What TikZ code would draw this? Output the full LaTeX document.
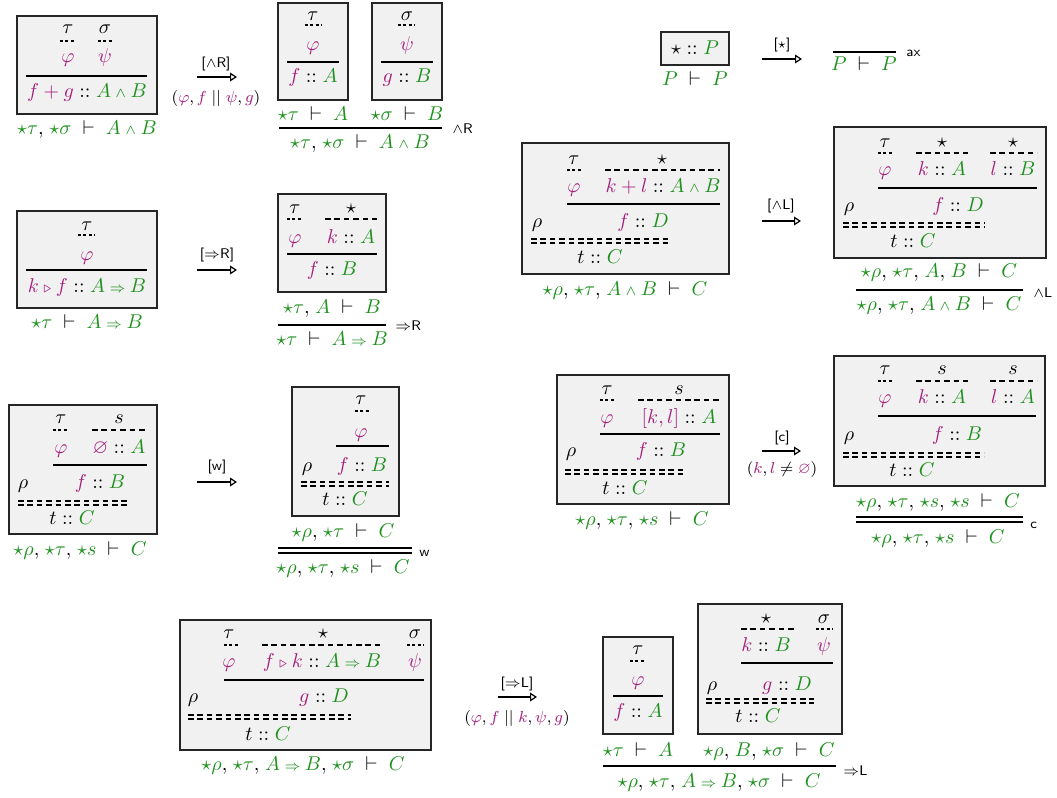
\documentclass[tikz,border=0pt]{standalone}
\usepackage{amssymb}
\usetikzlibrary{arrows.meta}
\definecolor{termc}{RGB}{165,30,125}
\definecolor{formc}{RGB}{30,145,30}
\definecolor{boxc}{RGB}{241,241,241}
\newcommand\tmc[1]{\textcolor{termc}{#1}}
\newcommand\fmc[1]{\textcolor{formc}{#1}}
\newcommand\cnj{\mathbin{\scriptstyle\wedge}}
\newcommand\imp{\mathbin{\scriptstyle\Rightarrow}}
\newcommand\tri{\mathbin{\scriptstyle\triangleright}}
\newcommand\vd{\mathrel{\mkern5mu\vdash\mkern5mu}}
\newcommand\cmm{,\mkern2mu}
% two dashed lines (cut) and two solid lines (structural rule)
\newcommand\cutline[3]{\draw[dsh] (#1,#3) -- (#2,#3); \draw[dsh] (#1,#3+4) -- (#2,#3+4);}
\newcommand\dblrule[3]{\draw[rul] (#1,#3) -- (#2,#3); \draw[rul] (#1,#3+5) -- (#2,#3+5);}

\begin{document}
\begin{tikzpicture}[x=0.5pt, y=-0.5pt,
  every node/.style={inner sep=0pt, text height=1.5ex, text depth=.25ex},
  sbox/.style={draw=black!85, line width=0.9pt, fill=boxc},
  rul/.style={line width=0.75pt},
  wk/.style={line width=0.6pt, dash pattern=on 1.5pt off 1.2pt},
  dsh/.style={line width=0.6pt, dash pattern=on 2.8pt off 1.9pt},
  redu/.style={-{Triangle[open, length=3.5pt, width=4.4pt]}, line width=0.6pt},
  rname/.style={font=\scriptsize\sffamily, anchor=west},
  alab/.style={font=\scriptsize\sffamily},
  aarg/.style={font=\footnotesize}]
	\useasboundingbox (0,0) rectangle (1057,798);
	
	%%%%% AND RIGHT %%%%%
	\draw[sbox] (17,16) rectangle (157,114);
	\node (aR-t) at (68,28) {$\tau$};
	\node (aR-s) at (105,28) {$\sigma$};
	\draw[wk] (60,41) -- (75,41);
	\draw[wk] (98,41) -- (113,41);
	\node (aR-phi) at (68,57) {$\tmc{\varphi}$};
	\node (aR-psi) at (105,57) {$\tmc{\psi}$};
	\draw[rul] (26,76) -- (147,76);
	\node (aR-c) at (87,92) {$\tmc{f+g}\mathrel{::}\fmc{A\cnj B}$};
	\node (aR-seq) at (87,129) {$\fmc{\star\tau}\cmm\fmc{\star\sigma}\vd\fmc{A\cnj B}$};
	
	\coordinate (aR-a1) at (197,77);
	\coordinate (aR-a2) at (237,77);
	\draw[redu] (aR-a1) -- (aR-a2);
	\node[alab] (aR-lab) at (216,62) {[$\wedge$R]};
	\node[aarg] (aR-arg) at (216,97) {$(\tmc{\varphi},\tmc{f}\;||\;\tmc{\psi},\tmc{g})$};
	
	\draw[sbox] (278,3) rectangle (348,100);
	\node (aR-t2) at (313,15) {$\tau$};
	\draw[wk] (305,25) -- (322,25);
	\node (aR-phi2) at (313,45) {$\tmc{\varphi}$};
	\draw[rul] (287,62) -- (339,62);
	\node (aR-f) at (313,77) {$\tmc{f}\mathrel{::}\fmc{A}$};
	\draw[sbox] (372,3) rectangle (442,100);
	\node (aR-s2) at (407,15) {$\sigma$};
	\draw[wk] (398,25) -- (415,25);
	\node (aR-psi2) at (407,45) {$\tmc{\psi}$};
	\draw[rul] (381,62) -- (433,62);
	\node (aR-g) at (407,77) {$\tmc{g}\mathrel{::}\fmc{B}$};
	\node (aR-p1) at (313,115) {$\fmc{\star\tau}\vd\fmc{A}$};
	\node (aR-p2) at (407,115) {$\fmc{\star\sigma}\vd\fmc{B}$};
	\draw[rul] (279,128) -- (442,128);
	\node (aR-con) at (360,143) {$\fmc{\star\tau}\cmm\fmc{\star\sigma}\vd\fmc{A\cnj B}$};
	\node[rname] (aR-name) at (452,128) {$\wedge$R};
	
	%%%%% AXIOM %%%%%
	\draw[sbox] (661,32) rectangle (729,65);
	\node (ax-c) at (695,49) {$\star\mathrel{::}\fmc{P}$};
	\node (ax-seq) at (695,80) {$\fmc{P}\vd\fmc{P}$};
	\coordinate (ax-a1) at (762,59);
	\coordinate (ax-a2) at (802,59);
	\draw[redu] (ax-a1) -- (ax-a2);
	\node[alab] (ax-lab) at (782,43) {[$\star$]};
	\draw[rul] (833,52) -- (896,52);
	\node (ax-con) at (864,65) {$\fmc{P}\vd\fmc{P}$};
	\node[rname] (ax-name) at (906,51) {ax};
	
	%%%%% IMPLIES RIGHT %%%%%
	\draw[sbox] (17,211) rectangle (157,308);
	\node (iR-t) at (87,225) {$\tau$};
	\draw[wk] (78,235) -- (95,235);
	\node (iR-phi) at (87,255) {$\tmc{\varphi}$};
	\draw[rul] (26,270) -- (147,270);
	\node (iR-c) at (87,287) {$\tmc{k\tri f}\mathrel{::}\fmc{A\imp B}$};
	\node (iR-seq) at (87,323) {$\fmc{\star\tau}\vd\fmc{A\imp B}$};
	
	\coordinate (iR-a1) at (197,270);
	\coordinate (iR-a2) at (237,270);
	\draw[redu] (iR-a1) -- (iR-a2);
	\node[alab] (iR-lab) at (217,253) {[$\Rightarrow$R]};
	
	\draw[sbox] (278,194) rectangle (386,292);
	\node (iR-t2) at (295,208) {$\tau$};
	\draw[wk] (287,219) -- (303,219);
	\node (iR-st) at (351,208) {$\star$};
	\draw[dsh] (325,219) -- (377,219);
	\node (iR-phi2) at (295,238) {$\tmc{\varphi}$};
	\node (iR-k) at (351,238) {$\tmc{k}\mathrel{::}\fmc{A}$};
	\draw[rul] (287,254) -- (377,254);
	\node (iR-f) at (332,270) {$\tmc{f}\mathrel{::}\fmc{B}$};
	\node (iR-p) at (332,308) {$\fmc{\star\tau}\cmm\fmc{A}\vd\fmc{B}$};
	\draw[rul] (278,325) -- (386,325);
	\node (iR-con) at (332,340) {$\fmc{\star\tau}\vd\fmc{A\imp B}$};
	\node[rname] (iR-name) at (395,325) {$\Rightarrow$R};
	
	%%%%% AND LEFT %%%%%
	\draw[sbox] (522,143) rectangle (729,274);
	\node (aL-t) at (574,159) {$\tau$};
	\draw[wk] (567,170) -- (582,170);
	\node (aL-st) at (662,159) {$\star$};
	\draw[dsh] (605,170) -- (720,170);
	\node (aL-phi) at (574,187) {$\tmc{\varphi}$};
	\node (aL-kl) at (663,187) {$\tmc{k+l}\mathrel{::}\fmc{A\cnj B}$};
	\draw[rul] (567,204) -- (720,204);
	\node (aL-r) at (537,222) {$\rho$};
	\node (aL-f) at (643,222) {$\tmc{f}\mathrel{::}\fmc{D}$};
	\cutline{531}{670}{239}
	\node (aL-tc) at (600,258) {$t\mathrel{::}\fmc{C}$};
	\node (aL-seq) at (625,290) {$\fmc{\star\rho}\cmm\fmc{\star\tau}\cmm\fmc{A\cnj B}\vd\fmc{C}$};
	
	\coordinate (aL-a1) at (762,221);
	\coordinate (aL-a2) at (801,221);
	\draw[redu] (aL-a1) -- (aL-a2);
	\node[alab] (aL-lab) at (781,204) {[$\wedge$L]};
	
	\draw[sbox] (834,127) rectangle (1046,258);
	\node (aL-t2) at (885,142) {$\tau$};
	\draw[wk] (878,153) -- (894,153);
	\node (aL-st1) at (942,142) {$\star$};
	\draw[dsh] (916,153) -- (968,153);
	\node (aL-st2) at (1013,142) {$\star$};
	\draw[dsh] (990,153) -- (1037,153);
	\node (aL-phi2) at (885,170) {$\tmc{\varphi}$};
	\node (aL-k) at (942,170) {$\tmc{k}\mathrel{::}\fmc{A}$};
	\node (aL-l) at (1013,170) {$\tmc{l}\mathrel{::}\fmc{B}$};
	\draw[rul] (878,188) -- (1037,188);
	\node (aL-r2) at (849,206) {$\rho$};
	\node (aL-f2) at (958,206) {$\tmc{f}\mathrel{::}\fmc{D}$};
	\cutline{843}{985}{223}
	\node (aL-tc2) at (913,242) {$t\mathrel{::}\fmc{C}$};
	\node (aL-p) at (939,272) {$\fmc{\star\rho}\cmm\fmc{\star\tau}\cmm\fmc{A}\cmm\fmc{B}\vd\fmc{C}$};
	\draw[rul] (856,290) -- (1023,290);
	\node (aL-con) at (939,305) {$\fmc{\star\rho}\cmm\fmc{\star\tau}\cmm\fmc{A\cnj B}\vd\fmc{C}$};
	\node[rname] (aL-name) at (1033,292) {$\wedge$L};
	
	%%%%% WEAKENING %%%%%
	\draw[sbox] (9,405) rectangle (157,534);
	\node (w-t) at (61,418) {$\tau$};
	\draw[wk] (53,430) -- (69,430);
	\node (w-s) at (119,418) {$s$};
	\draw[dsh] (92,430) -- (147,430);
	\node (w-phi) at (61,448) {$\tmc{\varphi}$};
	\node (w-e) at (119,448) {$\tmc{\varnothing}\mathrel{::}\fmc{A}$};
	\draw[rul] (53,465) -- (147,465);
	\node (w-r) at (23,483) {$\rho$};
	\node (w-f) at (100,483) {$\tmc{f}\mathrel{::}\fmc{B}$};
	\cutline{18}{127}{501}
	\node (w-tc) at (72,519) {$t\mathrel{::}\fmc{C}$};
	\node (w-seq) at (80,550) {$\fmc{\star\rho}\cmm\fmc{\star\tau}\cmm\fmc{\star s}\vd\fmc{C}$};
	
	\coordinate (w-a1) at (197,482);
	\coordinate (w-a2) at (237,482);
	\draw[redu] (w-a1) -- (w-a2);
	\node[alab] (w-lab) at (217,465) {[w]};
	
	\draw[sbox] (292,387) rectangle (399,516);
	\node (w-t2) at (361,399) {$\tau$};
	\draw[wk] (355,411) -- (370,411);
	\node (w-phi2) at (361,432) {$\tmc{\varphi}$};
	\draw[rul] (336,446) -- (389,446);
	\node (w-r2) at (307,466) {$\rho$};
	\node (w-f2) at (362,466) {$\tmc{f}\mathrel{::}\fmc{B}$};
	\cutline{301}{389}{482}
	\node (w-tc2) at (345,500) {$t\mathrel{::}\fmc{C}$};
	\node (w-p) at (343,532) {$\fmc{\star\rho}\cmm\fmc{\star\tau}\vd\fmc{C}$};
	\dblrule{278}{412}{548}
	\node (w-con) at (343,568) {$\fmc{\star\rho}\cmm\fmc{\star\tau}\cmm\fmc{\star s}\vd\fmc{C}$};
	\node[rname] (w-name) at (419,551) {w};
	
	%%%%% CONTRACTION %%%%%
	\draw[sbox] (557,375) rectangle (729,504);
	\node (c-t) at (607,389) {$\tau$};
	\draw[wk] (600,400) -- (615,400);
	\node (c-s) at (679,389) {$s$};
	\draw[dsh] (638,400) -- (720,400);
	\node (c-phi) at (607,418) {$\tmc{\varphi}$};
	\node (c-kl) at (679,418) {$\tmc{[k,l]}\mathrel{::}\fmc{A}$};
	\draw[rul] (600,434) -- (720,434);
	\node (c-r) at (571,451) {$\rho$};
	\node (c-f) at (661,451) {$\tmc{f}\mathrel{::}\fmc{B}$};
	\cutline{565}{687}{470}
	\node (c-tc) at (625,489) {$t\mathrel{::}\fmc{C}$};
	\node (c-seq) at (642,520) {$\fmc{\star\rho}\cmm\fmc{\star\tau}\cmm\fmc{\star s}\vd\fmc{C}$};
	
	\coordinate (c-a1) at (762,451);
	\coordinate (c-a2) at (801,451);
	\draw[redu] (c-a1) -- (c-a2);
	\node[alab] (c-lab) at (782,436) {[c]};
	\node[aarg] (c-arg) at (782,468) {$(\tmc{k},\tmc{l}\neq\tmc{\varnothing})$};
	
	\draw[sbox] (834,356) rectangle (1045,486);
	\node (c-t2) at (885,369) {$\tau$};
	\draw[wk] (878,381) -- (894,381);
	\node (c-s1) at (942,369) {$s$};
	\draw[dsh] (916,381) -- (968,381);
	\node (c-s2) at (1013,369) {$s$};
	\draw[dsh] (990,381) -- (1037,381);
	\node (c-phi2) at (885,398) {$\tmc{\varphi}$};
	\node (c-k) at (942,398) {$\tmc{k}\mathrel{::}\fmc{A}$};
	\node (c-l) at (1013,398) {$\tmc{l}\mathrel{::}\fmc{A}$};
	\draw[rul] (878,416) -- (1036,416);
	\node (c-r2) at (849,435) {$\rho$};
	\node (c-f2) at (957,435) {$\tmc{f}\mathrel{::}\fmc{B}$};
	\cutline{843}{984}{453}
	\node (c-tc2) at (912,471) {$t\mathrel{::}\fmc{C}$};
	\node (c-p) at (938,502) {$\fmc{\star\rho}\cmm\fmc{\star\tau}\cmm\fmc{\star s}\cmm\fmc{\star s}\vd\fmc{C}$};
	\dblrule{856}{1023}{517}
	\node (c-con) at (938,538) {$\fmc{\star\rho}\cmm\fmc{\star\tau}\cmm\fmc{\star s}\vd\fmc{C}$};
	\node[rname] (c-name) at (1030,523) {c};
	
	%%%%% IMPLIES LEFT %%%%%
	\draw[sbox] (180,620) rectangle (431,750);
	\node (iL-t) at (229,633) {$\tau$};
	\draw[wk] (224,645) -- (238,645);
	\node (iL-st) at (323,633) {$\star$};
	\draw[dsh] (262,645) -- (383,645);
	\node (iL-s) at (415,633) {$\sigma$};
	\draw[wk] (407,645) -- (424,645);
	\node (iL-phi) at (229,662) {$\tmc{\varphi}$};
	\node (iL-fk) at (322,662) {$\tmc{f\tri k}\mathrel{::}\fmc{A\imp B}$};
	\node (iL-psi) at (415,662) {$\tmc{\psi}$};
	\draw[rul] (224,680) -- (424,680);
	\node (iL-r) at (193,697) {$\rho$};
	\node (iL-g) at (324,697) {$\tmc{g}\mathrel{::}\fmc{D}$};
	\cutline{188}{351}{715}
	\node (iL-tc) at (268,735) {$t\mathrel{::}\fmc{C}$};
	\node (iL-seq) at (303,765) {$\fmc{\star\rho}\cmm\fmc{\star\tau}\cmm\fmc{A\imp B}\cmm\fmc{\star\sigma}\vd\fmc{C}$};
	
	\coordinate (iL-a1) at (498,697);
	\coordinate (iL-a2) at (537,697);
	\draw[redu] (iL-a1) -- (iL-a2);
	\node[alab] (iL-lab) at (517,682) {[$\Rightarrow$L]};
	\node[aarg] (iL-arg) at (517,717) {$(\tmc{\varphi},\tmc{f}\;||\;\tmc{k},\tmc{\psi},\tmc{g})$};
	
	\draw[sbox] (603,637) rectangle (673,734);
	\node (iL-t2) at (638,649) {$\tau$};
	\draw[wk] (630,661) -- (645,661);
	\node (iL-phi2) at (638,680) {$\tmc{\varphi}$};
	\draw[rul] (613,696) -- (663,696);
	\node (iL-f) at (638,712) {$\tmc{f}\mathrel{::}\fmc{A}$};
	
	\draw[sbox] (698,604) rectangle (842,734);
	\node (iL-st2) at (766,618) {$\star$};
	\draw[dsh] (741,629) -- (794,629);
	\node (iL-s2) at (824,618) {$\sigma$};
	\draw[wk] (816,629) -- (833,629);
	\node (iL-k) at (766,646) {$\tmc{k}\mathrel{::}\fmc{B}$};
	\node (iL-psi2) at (824,646) {$\tmc{\psi}$};
	\draw[rul] (741,663) -- (833,663);
	\node (iL-r2) at (712,685) {$\rho$};
	\node (iL-g2) at (787,685) {$\tmc{g}\mathrel{::}\fmc{D}$};
	\cutline{706}{814}{699}
	\node (iL-tc2) at (758,717) {$t\mathrel{::}\fmc{C}$};
	\node (iL-p1) at (638,751) {$\fmc{\star\tau}\vd\fmc{A}$};
	\node (iL-p2) at (769,751) {$\fmc{\star\rho}\cmm\fmc{B}\cmm\fmc{\star\sigma}\vd\fmc{C}$};
	\draw[rul] (603,766) -- (836,766);
	\node (iL-con) at (719,782) {$\fmc{\star\rho}\cmm\fmc{\star\tau}\cmm\fmc{A\imp B}\cmm\fmc{\star\sigma}\vd\fmc{C}$};
	\node[rname] (iL-name) at (843,770) {$\Rightarrow$L};
	
\end{tikzpicture}
\end{document}
